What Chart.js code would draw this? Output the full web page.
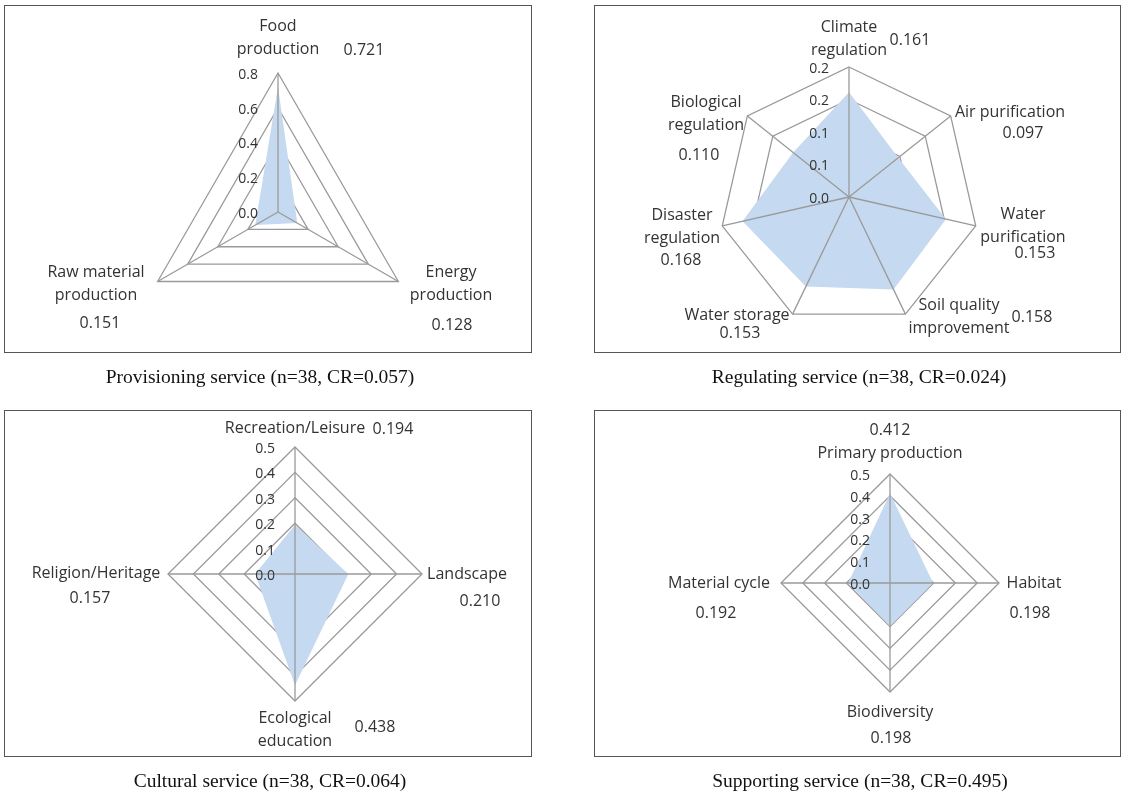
<!DOCTYPE html>
<html>
<head>
<meta charset="utf-8">
<script src="https://cdn.jsdelivr.net/npm/chart.js@4.4.1/dist/chart.umd.min.js"></script>
<style>
  body { margin: 0; background: #fff; width: 1121px; height: 796px; position: relative; overflow: hidden; }
  .box { position: absolute; border: 1px solid #555; box-sizing: border-box; }
  canvas { position: absolute; }
  .cap { position: absolute; font-family: "Liberation Serif", "Times New Roman", serif; font-size: 19.5px; color: #111;
         transform: translate(-50%, -50%); white-space: nowrap; }
</style>
</head>
<body>
<div class="box" style="left:4px;top:5px;width:528px;height:348px"></div>
<div class="box" style="left:594px;top:5px;width:527px;height:348px"></div>
<div class="box" style="left:4px;top:410px;width:528px;height:347px"></div>
<div class="box" style="left:594px;top:410px;width:527px;height:347px"></div>

<canvas id="c1" width="560" height="400" style="left:0;top:0"></canvas>
<canvas id="c2" width="561" height="400" style="left:560px;top:0"></canvas>
<canvas id="c3" width="560" height="396" style="left:0;top:400px"></canvas>
<canvas id="c4" width="561" height="396" style="left:560px;top:400px"></canvas>

<div class="cap" style="left:260px;top:377px">Provisioning service (n=38, CR=0.057)</div>
<div class="cap" style="left:859px;top:377px">Regulating service (n=38, CR=0.024)</div>
<div class="cap" style="left:270px;top:781px">Cultural service (n=38, CR=0.064)</div>
<div class="cap" style="left:860px;top:781px">Supporting service (n=38, CR=0.495)</div>

<script>
// provisioning
const provLabels = [['Food', 'production'], ['Energy', 'production'], ['Raw material', 'production']];
const provValues = [0.721, 0.128, 0.151];
const provTicks = ['0.0', '0.2', '0.4', '0.6', '0.8'];

// regulating
const regLabels = [['Climate', 'regulation'], ['Air purification'], ['Water', 'purification'],
  ['Soil quality', 'improvement'], ['Water storage'], ['Disaster', 'regulation'], ['Biological', 'regulation']];
const regValues = [0.161, 0.097, 0.153, 0.158, 0.153, 0.168, 0.110];
const regTicks = ['0.0', '0.1', '0.1', '0.2', '0.2'];

// cultural
const culLabels = [['Recreation/Leisure'], ['Landscape'], ['Ecological', 'education'], ['Religion/Heritage']];
const culValues = [0.194, 0.210, 0.438, 0.157];
const culTicks = ['0.0', '0.1', '0.2', '0.3', '0.4', '0.5'];

// supporting
const supLabels = [['Primary production'], ['Habitat'], ['Biodiversity'], ['Material cycle']];
const supValues = [0.412, 0.198, 0.198, 0.192];
const supTicks = ['0.0', '0.1', '0.2', '0.3', '0.4', '0.5'];

const LABEL_FONT = '16px "Open Sans"';
const TICK_FONT = '14px "Open Sans"';
const TEXT_COLOR = '#333';
const GRID_COLOR = '#9a9a9a';
const FILL_COLOR = 'rgb(197, 217, 240)';

// draws spokes over the fill, then tick labels, names and value labels
const radarExtras = {
  id: 'radarExtras',
  afterDatasetsDraw(chart, args, opts) {
    const s = chart.scales.r;
    const ctx = chart.ctx;
    ctx.save();
    ctx.strokeStyle = GRID_COLOR;
    ctx.lineWidth = 1.3;
    for (let i = 0; i < chart.data.labels.length; i++) {
      const p = s.getPointPosition(i, s.drawingArea);
      ctx.beginPath();
      ctx.moveTo(s.xCenter, s.yCenter);
      ctx.lineTo(p.x, p.y);
      ctx.stroke();
    }
    ctx.fillStyle = TEXT_COLOR;
    ctx.font = TICK_FONT;
    ctx.textAlign = 'right';
    ctx.textBaseline = 'middle';
    s.ticks.forEach((t, i) => {
      const y = s.yCenter - s.getDistanceFromCenterForValue(t.value);
      ctx.fillText(opts.tickLabels[i], s.xCenter - 20, y + 2);
    });
    ctx.font = LABEL_FONT;
    ctx.textAlign = 'center';
    chart.data.labels.forEach((lines, i) => {
      const [dx, dy] = opts.namePos[i];
      lines.forEach((ln, k) => ctx.fillText(ln, s.xCenter + dx, s.yCenter + dy + k * opts.lineH));
      const [vx, vy] = opts.valuePos[i];
      ctx.fillText(chart.data.datasets[0].data[i].toFixed(3), s.xCenter + vx, s.yCenter + vy);
    });
    ctx.restore();
  }
};

function makeRadar(id, cell, center, r, labels, values, max, step, tickLabels, namePos, valuePos) {
  const cx = center[0] - cell[0], cy = center[1] - cell[1];
  new Chart(document.getElementById(id), {
    type: 'radar',
    data: {
      labels: labels,
      datasets: [{
        data: values,
        backgroundColor: FILL_COLOR,
        borderWidth: 0,
        pointRadius: 0,
        fill: true
      }]
    },
    options: {
      responsive: false,
      animation: false,
      layout: {
        padding: { left: cx - r, top: cy - r, right: cell[2] - cx - r, bottom: cell[3] - cy - r }
      },
      plugins: {
        legend: { display: false },
        tooltip: { enabled: false },
        radarExtras: { tickLabels: tickLabels, namePos: namePos, valuePos: valuePos, lineH: 23 }
      },
      scales: {
        r: {
          min: 0,
          max: max,
          ticks: { stepSize: step, display: false },
          grid: { color: GRID_COLOR, lineWidth: 1.3 },
          angleLines: { display: false },
          pointLabels: { display: false }
        }
      }
    },
    plugins: [radarExtras]
  });
}

makeRadar('c1', [0, 0, 560, 400], [278, 212], 139, provLabels, provValues, 0.8, 0.2, provTicks,
  [[0, -186], [173, 60], [-182, 60]],
  [[86, -162], [174, 113], [-178, 111]]);

makeRadar('c2', [560, 0, 561, 400], [849, 197], 130, regLabels, regValues, 0.2, 0.05, regTicks,
  [[0, -170], [161, -85], [174, 17], [110, 108], [-112, 118], [-167, 18], [-143, -95]],
  [[61, -157], [174, -64], [186, 56], [183, 120], [-109, 136], [-168, 63], [-150, -42]]);

makeRadar('c3', [0, 400, 560, 396], [295, 574], 127, culLabels, culValues, 0.5, 0.1, culTicks,
  [[0, -146], [172, 0], [0, 144], [-199, -1]],
  [[98, -145], [185, 27], [80, 153], [-205, 24]]);

makeRadar('c4', [560, 400, 561, 396], [890, 583], 109, supLabels, supValues, 0.5, 0.1, supTicks,
  [[0, -130], [144, 0], [0, 129], [-171, 0]],
  [[0, -153], [140, 30], [1, 155], [-174, 30]]);
</script>
</body>
</html>
